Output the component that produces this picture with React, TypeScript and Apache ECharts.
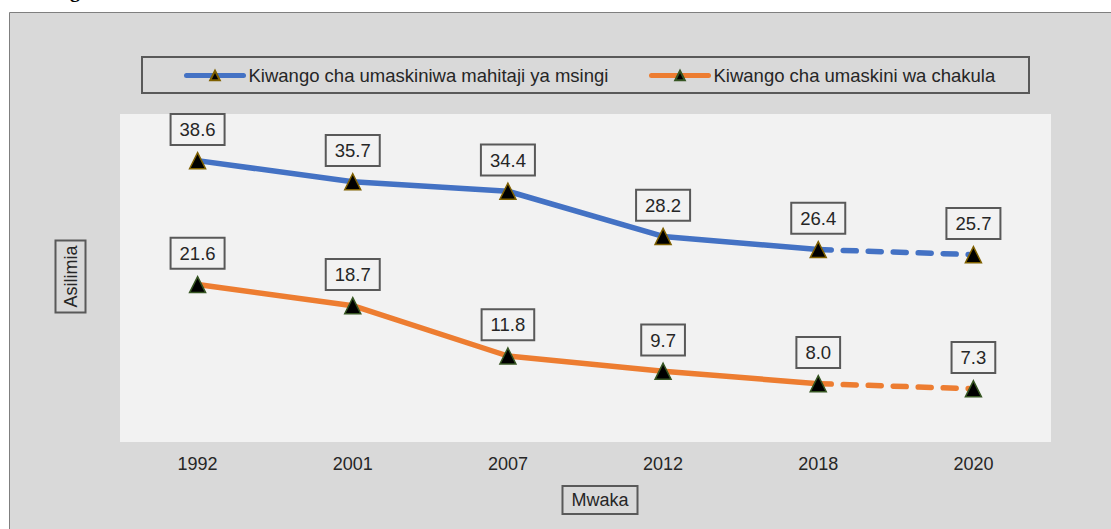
import React, { useEffect, useRef } from "react";
import * as echarts from "echarts";

const categories = ["1992", "2001", "2007", "2012", "2018", "2020"];
const basicNeedsName = "Kiwango cha umaskiniwa mahitaji ya msingi";
const foodName = "Kiwango cha umaskini wa chakula";
const basicNeedsActual = [38.6, 35.7, 34.4, 28.2, 26.4];
const basicNeedsProjected = [26.4, 25.7];
const foodActual = [21.6, 18.7, 11.8, 9.7, 8.0];
const foodProjected = [8.0, 7.3];
const yAxisName = "Asilimia";
const xAxisName = "Mwaka";
const cutTitle = "Kiwango";

const FONT = "Liberation Sans, Arial, sans-serif";

function solidData(vals: number[]) {
  const d: any[] = vals.slice();
  while (d.length < categories.length) d.push("-");
  return d;
}
function dashedData(vals: number[]) {
  const d: any[] = [];
  const start = categories.length - vals.length;
  for (let i = 0; i < start; i++) d.push("-");
  vals.forEach((v, i) => {
    if (i === 0) d.push({ value: v, symbol: "none", label: { show: false } });
    else d.push(v);
  });
  return d;
}

const labelCfg = {
  show: true,
  position: "top",
  distance: 8,
  formatter: (p: any) => Number(p.value).toFixed(1),
  fontSize: 18.5,
  fontFamily: FONT,
  color: "#262626",
  backgroundColor: "#f2f2f2",
  borderColor: "#595959",
  borderWidth: 2,
  padding: [5, 8, 5, 8],
};

export default function App() {
  const ref = useRef<HTMLDivElement>(null);
  useEffect(() => {
    if (!ref.current) return;
    const chart = echarts.init(ref.current, undefined, { renderer: "svg" });
    const blue = "#4472c4";
    const orange = "#ed7d31";
    const blueMarker = { color: "#000", borderColor: "#7f6000", borderWidth: 1.5 };
    const orangeMarker = { color: "#000", borderColor: "#375623", borderWidth: 1.5 };
    const legendBase = {
      top: 66,
      padding: 0,
      itemWidth: 57,
      itemHeight: 12,
      lineStyle: { width: 5, cap: "round" },
      textStyle: { fontSize: 18.5, fontFamily: FONT, color: "#262626" },
    };
    chart.setOption({
      animation: false,
      graphic: [
        {
          type: "rect",
          z: -10,
          shape: { x: 9.5, y: 12.5, width: 1200, height: 600 },
          style: { fill: "#d9d9d9", stroke: "#7f7f7f", lineWidth: 1 },
        },
        {
          type: "text",
          z: -5,
          style: {
            text: cutTitle,
            x: 90,
            y: 0,
            textAlign: "right",
            textVerticalAlign: "bottom",
            font: "bold 20px 'Liberation Serif', serif",
            fill: "#000",
          },
        },
        {
          type: "rect",
          z: 5,
          shape: { x: 142, y: 57, width: 887, height: 36 },
          style: { fill: "none", stroke: "#595959", lineWidth: 2 },
        },
        {
          type: "text",
          z: 5,
          x: 70.5,
          y: 276.5,
          rotation: Math.PI / 2,
          style: {
            text: yAxisName,
            x: 0,
            y: 0,
            textAlign: "center",
            textVerticalAlign: "middle",
            font: "18px " + FONT,
            fill: "#262626",
            backgroundColor: "#d9d9d9",
            borderColor: "#595959",
            borderWidth: 2,
            padding: [5, 4, 5, 4],
          },
        },
        {
          type: "text",
          z: 5,
          x: 600,
          y: 500,
          style: {
            text: xAxisName,
            x: 0,
            y: 0,
            textAlign: "center",
            textVerticalAlign: "middle",
            font: "18px " + FONT,
            fill: "#262626",
            backgroundColor: "#d9d9d9",
            borderColor: "#595959",
            borderWidth: 2,
            padding: [4, 8, 4, 8],
          },
        },
      ],
      legend: [
        { ...legendBase, data: [basicNeedsName], left: 184 },
        { ...legendBase, data: [foodName], left: 649 },
      ],
      grid: {
        left: 120,
        top: 114,
        width: 931,
        height: 328,
        show: true,
        backgroundColor: "#f2f2f2",
        borderWidth: 0,
        containLabel: false,
      },
      xAxis: {
        type: "category",
        data: categories,
        boundaryGap: true,
        axisLine: { show: false },
        axisTick: { show: false },
        splitLine: { show: false },
        axisLabel: { fontSize: 18, fontFamily: FONT, color: "#262626", margin: 13 },
      },
      yAxis: {
        type: "value",
        min: 0,
        max: 45,
        show: false,
        splitLine: { show: false },
      },
      series: [
        {
          name: "basicDashed",
          type: "line",
          data: dashedData(basicNeedsProjected),
          symbol: "triangle",
          symbolSize: 16,
          itemStyle: blueMarker,
          lineStyle: { color: blue, width: 5.5, type: [13, 12], cap: "round" },
          label: labelCfg,
        },
        {
          name: "foodDashed",
          type: "line",
          data: dashedData(foodProjected),
          symbol: "triangle",
          symbolSize: 16,
          itemStyle: orangeMarker,
          lineStyle: { color: orange, width: 5.5, type: [13, 12], cap: "round" },
          label: labelCfg,
        },
        {
          name: basicNeedsName,
          type: "line",
          data: solidData(basicNeedsActual),
          symbol: "triangle",
          symbolSize: 16,
          itemStyle: blueMarker,
          lineStyle: { color: blue, width: 5.5 },
          label: labelCfg,
        },
        {
          name: foodName,
          type: "line",
          data: solidData(foodActual),
          symbol: "triangle",
          symbolSize: 16,
          itemStyle: orangeMarker,
          lineStyle: { color: orange, width: 5.5 },
          label: labelCfg,
        },
      ],
    });
    return () => chart.dispose();
  }, []);
  return (
    <div
      ref={ref}
      style={{ position: "fixed", left: 0, top: 0, width: 1111, height: 529, background: "#fff" }}
    />
  );
}
